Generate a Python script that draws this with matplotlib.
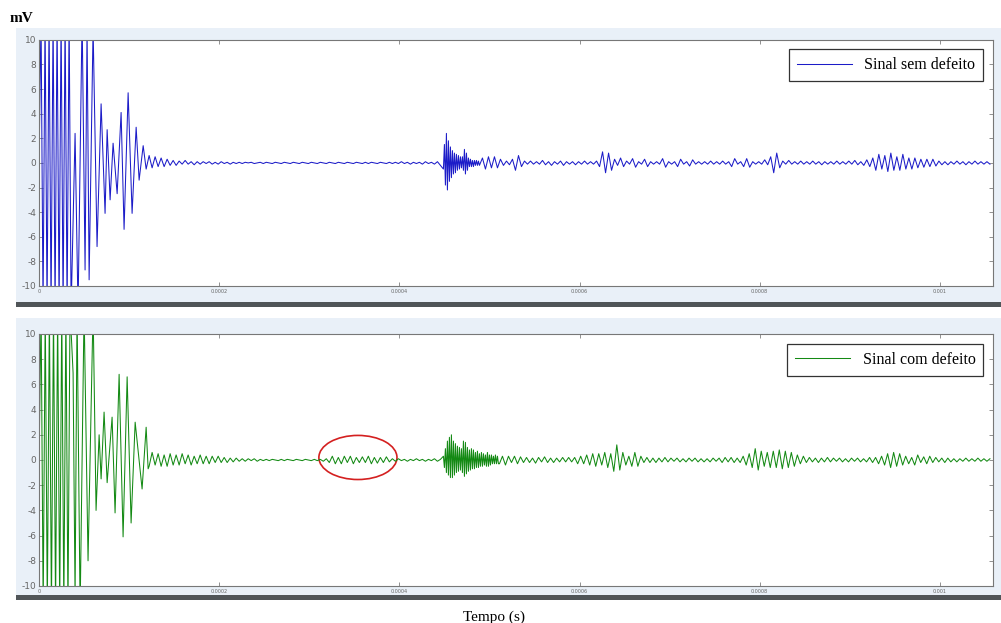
import matplotlib.pyplot as plt
from matplotlib.patches import Ellipse, Rectangle
import numpy as np

plt.rcParams["axes.unicode_minus"] = False

# trechos do sinal: (inicio em us, fim em us, valores em mV igualmente espacados)
# sinal sem defeito
sat_sem = (0.0, 35.6, [0, 12, -12, 12, -12, 12, -12, 12, -12, 12, -12, 12, -12, 12, -12, 12, -12])
# extremos da oscilacao inicial (tempo em us, amplitude)
t_osc_sem = [40.0, 43.3, 47.8, 51.1, 53.3, 55.6, 60.0, 64.4, 68.9, 73.3, 75.6, 78.9,
             82.2, 86.7, 91.1, 94.4, 98.9, 103.3, 107.8, 111.1, 115.6, 118.9]
v_osc_sem = [2.4, -12, 12, -8.7, 11, -9.5, 11, -6.8, 4.8, -4.1, 2.7, -3.0,
             1.6, -2.5, 4.1, -5.4, 5.7, -4.1, 2.9, -1.4, 1.4, -0.5]
calmo_sem = (122.2, 445.6, [
    0.6, -0.4, 0.5, -0.3, 0.4, -0.3, 0.3, -0.2, 0.2, -0.2,
    0.15, -0.1, 0.2, -0.1, 0.1, -0.15, 0.1, -0.1, 0.1, -0.05,
    0.1, -0.1, 0.05, -0.1, 0.1, -0.05, 0.05, -0.1, 0.05, -0.05,
    0.05, -0.05, 0.05, 0, 0.05, -0.05, 0, 0.05, -0.05, 0.05,
    0, -0.05, 0.05, 0, -0.05, 0.05, 0, -0.05, 0.05, 0,
    -0.05, 0.05, 0, -0.05, 0.05, 0, -0.05, 0.05, 0, -0.05,
    0.05, 0, -0.05, 0.05, 0, -0.05, 0.05, 0, -0.05, 0.05,
    0, -0.05, 0.05, -0.05, 0.05, 0, -0.05, 0.05, 0, -0.05,
    0.05, -0.05, 0.05, -0.05, 0.1, -0.05, 0.05, -0.1, 0.05, -0.05,
    0.05, -0.1, 0.1, -0.05, 0.05, -0.1, 0.1, -0.2])
surto_sem = (448.9, 487.8, [
    -0.5, 1.5, -1.8, 2.4, -2.2, 1.8, -1.5, 1.3, -1.2, 1.0,
    -0.9, 0.8, -0.8, 0.7, -0.6, 0.6, -0.5, 0.5, -0.4, 0.5,
    -0.6, 1.1, -0.9, 0.8, -0.6, 0.4, -0.3, 0.3, -0.3, 0.2,
    -0.3, 0.2, -0.2, 0.2, -0.2, 0.15])
final_sem = (488.9, 1055.6, [
    -0.2, 0.4, -0.5, 0.5, -0.4, 0.5, -0.4, 0.3, -0.2, 0.15,
    -0.15, 0.3, -0.6, 0.6, -0.3, 0.15, -0.1, 0.15, -0.1, 0.1,
    -0.1, 0.2, -0.15, 0.1, -0.2, 0.1, -0.1, 0.15, -0.2, 0.1,
    -0.1, 0.1, -0.15, 0.1, -0.1, 0.15, -0.1, 0.1, -0.1, 0.15,
    -0.3, 0.9, -0.8, 0.8, -0.6, 0.3, -0.2, 0.4, -0.3, 0.15,
    -0.1, 0.35, -0.35, 0.1, -0.1, 0.3, -0.3, 0.1, -0.1, 0.1,
    -0.1, 0.35, -0.35, 0.1, -0.1, 0.1, -0.3, 0.3, -0.1, 0.1,
    -0.25, 0.25, -0.1, 0.1, -0.1, 0.1, -0.1, 0.15, -0.1, 0.1,
    -0.1, 0.15, -0.1, 0.1, -0.3, 0.35, -0.1, 0.1, -0.3, 0.35,
    -0.35, 0.1, -0.1, 0.1, -0.1, 0.25, -0.15, 0.5, -0.8, 0.8,
    -0.4, 0.15, -0.1, 0.2, -0.1, 0.1, -0.1, 0.15, -0.1, 0.1,
    -0.1, 0.15, -0.1, 0.1, -0.15, 0.1, -0.1, 0.1, -0.1, 0.15,
    -0.1, 0.1, -0.1, 0.15, -0.1, 0.2, -0.15, 0.1, -0.2, 0.25,
    -0.3, 0.4, -0.6, 0.7, -0.5, 0.6, -0.7, 0.8, -0.6, 0.5,
    -0.6, 0.7, -0.5, 0.4, -0.5, 0.4, -0.4, 0.3, -0.35, 0.3,
    -0.3, 0.3, -0.25, 0.15, -0.15, 0.1, -0.15, 0.1, -0.1, 0.15,
    -0.1, 0.1, -0.15, 0.1, -0.1, 0.15, -0.1, 0.1, -0.1, 0.1, -0.1])

# sinal com defeito
sat_com = (0.0, 34.4, [0, 12, -12, 12, -12, 12, -12, 12, -12, 12, -12, 12, -12, 12, -12, 12])
t_osc_com = [37.8, 40.0, 42.2, 45.6, 50.0, 54.4, 60.0, 63.3, 66.7, 68.9, 72.2, 75.6,
             81.1, 84.4, 88.9, 93.3, 97.8, 102.2, 106.7, 114.4, 118.9, 121.1]
v_osc_com = [6.9, -11, 12, -12, 12, -8, 12, -4, 2, -1.5, 3.8, -1.8,
             3.4, -4.2, 6.8, -6.1, 6.6, -5.0, 3.0, -2.3, 2.6, -0.7]
calmo_com = (122.2, 445.6, [
    -0.5, 0.6, -0.4, 0.5, -0.5, 0.4, -0.5, 0.5, -0.4, 0.4,
    -0.4, 0.5, -0.3, 0.4, -0.4, 0.3, -0.3, 0.4, -0.3, 0.3,
    -0.3, 0.3, -0.2, 0.3, -0.2, 0.2, -0.2, 0.15, -0.15, 0.15,
    -0.1, 0.1, -0.1, 0.1, -0.05, 0.1, -0.1, 0.05, -0.05, 0.05,
    -0.05, 0.05, 0, -0.05, 0.05, -0.05, 0.05, 0, -0.05, 0.05,
    0, -0.05, 0.05, 0, -0.05, 0.05, -0.05, 0.05, -0.1, 0.1,
    -0.2, 0.3, -0.3, 0.2, -0.3, 0.3, -0.2, 0.3, -0.3, 0.2,
    -0.2, 0.25, -0.2, 0.3, -0.3, 0.2, -0.25, 0.2, -0.2, 0.25,
    -0.15, 0.1, -0.1, 0.1, -0.05, 0.05, -0.1, 0.05, -0.05, 0.1,
    -0.05, 0.05, -0.1, 0.05, -0.05, 0.1, -0.1, 0.05])
surto_com = (448.9, 510.0, [
    0.3, -0.6, 0.9, -1.0, 1.5, -1.2, 1.8, -1.4, 2.0, -1.4,
    1.5, -1.2, 1.3, -1.0, 1.1, -0.9, 1.0, -0.8, 0.9, -1.0,
    1.5, -1.3, 1.4, -1.1, 1.0, -0.9, 0.8, -0.8, 0.9, -0.7,
    0.8, -0.7, 0.6, -0.6, 0.7, -0.6, 0.5, -0.5, 0.6, -0.5,
    0.5, -0.4, 0.4, -0.5, 0.6, -0.5, 0.4, -0.4, 0.4, -0.3,
    0.3, -0.3, 0.4, -0.3, 0.3, -0.3])
final_com = (511.1, 1055.6, [
    -0.3, 0.3, -0.4, 0.3, -0.2, 0.3, -0.3, 0.25, -0.2, 0.2,
    -0.2, 0.15, -0.25, 0.2, -0.15, 0.25, -0.2, 0.15, -0.2, 0.15,
    -0.15, 0.2, -0.15, 0.2, -0.15, 0.2, -0.3, 0.3, -0.3, 0.4,
    -0.4, 0.5, -0.5, 0.5, -0.4, 0.6, -0.6, 0.5, -0.9, 1.2,
    -0.8, 0.6, -0.4, 0.3, -0.5, 0.6, -0.5, 0.3, -0.2, 0.2,
    -0.2, 0.15, -0.2, 0.15, -0.15, 0.2, -0.15, 0.15, -0.1, 0.15,
    -0.15, 0.1, -0.15, 0.15, -0.1, 0.15, -0.15, 0.1, -0.15, 0.1,
    -0.15, 0.15, -0.1, 0.15, -0.2, 0.2, -0.15, 0.2, -0.2, 0.15,
    -0.2, 0.3, -0.4, 0.5, -0.6, 0.9, -0.8, 0.7, -0.5, 0.6,
    -0.6, 0.7, -0.6, 0.8, -0.7, 0.7, -0.6, 0.6, -0.5, 0.4,
    -0.3, 0.3, -0.2, 0.2, -0.15, 0.15, -0.2, 0.15, -0.15, 0.2,
    -0.15, 0.15, -0.1, 0.15, -0.15, 0.1, -0.15, 0.15, -0.1, 0.15,
    -0.15, 0.1, -0.15, 0.2, -0.2, 0.2, -0.3, 0.3, -0.4, 0.5,
    -0.6, 0.6, -0.5, 0.5, -0.4, 0.3, -0.3, 0.2, -0.4, 0.4,
    -0.2, 0.25, -0.3, 0.3, -0.2, 0.2, -0.15, 0.15, -0.2, 0.15,
    -0.15, 0.1, -0.15, 0.1, -0.1, 0.15, -0.1, 0.1, -0.1, 0.15, -0.1, 0.1, -0.1, 0.1])

x_ticks = [0, 0.0002, 0.0004, 0.0006, 0.0008, 0.001]
x_ticklabels = ["0", "0.0002", "0.0004", "0.0006", "0.0008", "0.001"]
y_ticks = list(range(-10, 11, 2))


def trecho(seg):
    ini, fim, vals = seg
    return np.linspace(ini, fim, len(vals)), np.array(vals, dtype=float)


def monta(sat, t_osc, v_osc, *resto):
    partes = [trecho(sat), (np.array(t_osc), np.array(v_osc))]
    partes += [trecho(s) for s in resto]
    t = np.concatenate([p[0] for p in partes]) * 1e-6
    v = np.concatenate([p[1] for p in partes])
    return t, v


fig = plt.figure(figsize=(10.01, 6.23), dpi=100)
fig.patch.set_facecolor("white")

# fundos dos paineis, estilo janela do matlab
for y0, h in [(0.515, 0.44), (0.045, 0.445)]:
    fig.patches.append(Rectangle((0.016, y0), 0.984, h, transform=fig.transFigure,
                                 facecolor="#e9f0f8", edgecolor="none", zorder=-2))
for y in [0.507, 0.037]:
    fig.patches.append(Rectangle((0.016, y), 0.984, 0.008, transform=fig.transFigure,
                                 facecolor="#505558", edgecolor="none", zorder=-2))

ax1 = fig.add_axes([0.039, 0.541, 0.953, 0.395])
ax2 = fig.add_axes([0.039, 0.0594, 0.953, 0.4045])

t1, v1 = monta(sat_sem, t_osc_sem, v_osc_sem, calmo_sem, surto_sem, final_sem)
t2, v2 = monta(sat_com, t_osc_com, v_osc_com, calmo_com, surto_com, final_com)

ax1.plot(t1, v1, color="#1c1cc8", lw=0.75, label="Sinal sem defeito")
ax2.plot(t2, v2, color="#148a14", lw=0.75, label="Sinal com defeito")

for ax in (ax1, ax2):
    ax.set_facecolor("white")
    ax.set_xlim(0, 0.001059)
    ax.set_ylim(-10, 10)
    ax.set_xticks(x_ticks)
    ax.set_xticklabels(x_ticklabels, fontsize=3.5, color="#666666")
    ax.set_yticks(y_ticks)
    ax.tick_params(axis="y", labelsize=6.5, labelcolor="#555555", pad=1)
    ax.tick_params(direction="in", length=3, width=0.5, top=True, right=True,
                   colors="#666666", pad=2)
    for s in ax.spines.values():
        s.set_color("#777777")
        s.set_linewidth(0.8)
    leg = ax.legend(loc="upper right", prop={"family": "Liberation Serif", "size": 11.5},
                    fancybox=False, framealpha=1, edgecolor="#333333",
                    handlelength=3.4, borderaxespad=0.6, borderpad=0.5)
    leg.get_frame().set_linewidth(0.9)

ax2.add_patch(Ellipse((0.000354, 0.2), 0.0000867, 3.5, fill=False,
                      edgecolor="#d42020", lw=1.2))

fig.text(0.01, 0.965, "mV", family="Liberation Serif", fontsize=11, fontweight="bold")
fig.text(0.494, 0.004, "Tempo (s)", family="Liberation Serif", fontsize=11, ha="center")

plt.savefig("out.png", dpi=100)
